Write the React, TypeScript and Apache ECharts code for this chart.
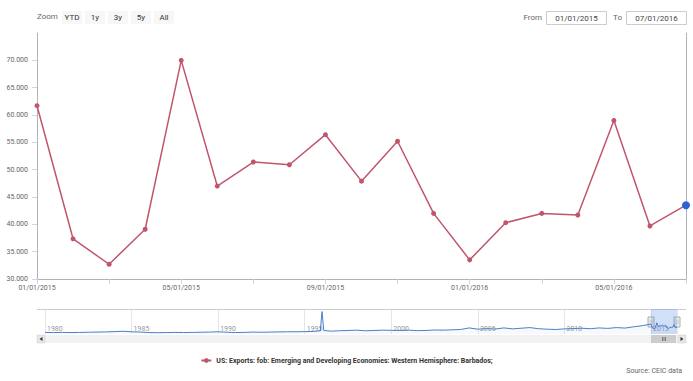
import React, { useEffect, useRef } from "react";
import * as echarts from "echarts";

const categories = [
  "01/01/2015", "02/01/2015", "03/01/2015", "04/01/2015", "05/01/2015", "06/01/2015",
  "07/01/2015", "08/01/2015", "09/01/2015", "10/01/2015", "11/01/2015", "12/01/2015",
  "01/01/2016", "02/01/2016", "03/01/2016", "04/01/2016", "05/01/2016", "06/01/2016",
  "07/01/2016",
];
const exportValues = [
  61.7, 37.35, 32.7, 39.1, 70.0, 47.0, 51.4, 50.9, 56.4, 47.9, 55.2, 42.0,
  33.5, 40.3, 42.0, 41.7, 59.0, 39.7, 43.5,
];
const seriesName = "US: Exports: fob: Emerging and Developing Economies: Western Hemisphere: Barbados;";
const zoomButtons = ["YTD", "1y", "3y", "5y", "All"];
const fromDate = "01/01/2015";
const toDate = "07/01/2016";
const sourceText = "Source: CEIC data";

// navigator history (approximate): [year, value]
const navHistory: [number, number][] = [
  [1980, 10], [1980.5, 9], [1981, 10], [1981.5, 9], [1982, 10], [1982.5, 11],
  [1983, 12], [1983.5, 13], [1984, 15], [1984.5, 17], [1985, 14], [1985.5, 12],
  [1986, 9], [1986.5, 8], [1987, 9], [1987.5, 10], [1988, 9], [1988.5, 10],
  [1989, 11], [1989.5, 12], [1990, 14], [1990.5, 11], [1991, 9], [1991.5, 10],
  [1992, 12], [1992.5, 11], [1993, 12], [1993.5, 13], [1994, 14], [1994.5, 14],
  [1995, 15], [1995.5, 16], [1995.9, 20], [1996, 140], [1996.1, 22], [1996.5, 18],
  [1997, 20], [1997.5, 22], [1998, 24], [1998.5, 20], [1999, 22], [1999.5, 24],
  [2000, 23], [2000.5, 22], [2001, 24], [2001.5, 21], [2002, 22], [2002.5, 25],
  [2003, 24], [2003.5, 26], [2004, 28], [2004.5, 38], [2005, 30], [2005.5, 34],
  [2006, 31], [2006.5, 38], [2007, 32], [2007.5, 36], [2008, 40], [2008.5, 33],
  [2009, 30], [2009.5, 28], [2010, 32], [2010.5, 34], [2011, 36], [2011.5, 33],
  [2012, 38], [2012.5, 35], [2013, 40], [2013.5, 37], [2014, 45], [2014.5, 52],
];
const rangeStart = 2015;
const rangeEnd = 2016.5;

const LINE = "#c0566c";
const FONT = "Roboto";

export default function App() {
  const ref = useRef<HTMLDivElement>(null);
  useEffect(() => {
    if (!ref.current) return;
    const chart = echarts.init(ref.current, null, { renderer: "svg" });
    const navData: [number, number][] = navHistory.concat(
      exportValues.map((v, i) => [rangeStart + i / 12, v] as [number, number])
    );
    const mainData = exportValues.map((v, i) =>
      i === exportValues.length - 1
        ? { value: v, symbolSize: 8, itemStyle: { color: "#2b60d6" } }
        : v
    );
    chart.setOption({
      animation: false,
      textStyle: { fontFamily: FONT },
      grid: [
        { left: 37, right: 7, top: 33, bottom: 102 },
        { left: 45, right: 16, top: 309, height: 25 },
      ],
      legend: {
        left: "center",
        top: 352,
        itemWidth: 10,
        itemHeight: 6,
        textStyle: { fontSize: 7, fontWeight: "bold", color: "#333", fontFamily: FONT },
        data: [seriesName],
      },
      xAxis: [
        {
          type: "category",
          gridIndex: 0,
          data: categories,
          boundaryGap: false,
          axisLine: { lineStyle: { color: "#b3b3b3" } },
          axisTick: { interval: 1, length: 5, lineStyle: { color: "#ccd6eb" } },
          axisLabel: { interval: 3, fontSize: 7, color: "#666", margin: 5, fontFamily: FONT },
          splitLine: { show: false },
        },
        {
          type: "value",
          gridIndex: 1,
          min: 1980,
          max: 2016.5,
          interval: 5,
          axisLine: { show: false },
          axisTick: { show: false },
          splitLine: { show: true, lineStyle: { color: "#e6e6e6" } },
          axisLabel: {
            inside: true,
            margin: 2,
            align: "left",
            fontSize: 7,
            color: "#999",
            padding: [0, 0, 0, 2],
            fontFamily: FONT,
            formatter: (v: number) => (v % 5 === 0 ? String(v) : ""),
          },
        },
      ],
      yAxis: [
        {
          type: "value",
          gridIndex: 0,
          min: 30,
          max: 75,
          interval: 5,
          axisLine: { show: true, lineStyle: { color: "#b3b3b3" } },
          axisTick: { show: true, length: 5, lineStyle: { color: "#ccd6eb" } },
          axisLabel: {
            showMaxLabel: false,
            fontSize: 7,
            color: "#666",
            margin: 9,
            fontFamily: FONT,
            formatter: (v: number) => v.toFixed(3),
          },
          splitLine: { show: false },
        },
        {
          type: "value",
          gridIndex: 0,
          position: "right",
          min: 30,
          max: 75,
          interval: 5,
          axisLine: { show: true, lineStyle: { color: "#b3b3b3" } },
          axisTick: { show: false },
          axisLabel: { show: false },
          splitLine: { show: false },
        },
        {
          type: "value",
          gridIndex: 1,
          min: 0,
          max: 156,
          show: false,
        },
      ],
      series: [
        {
          name: seriesName,
          type: "line",
          xAxisIndex: 0,
          yAxisIndex: 0,
          data: mainData,
          symbol: "circle",
          symbolSize: 5,
          lineStyle: { color: LINE, width: 1.5 },
          itemStyle: { color: LINE },
        },
        {
          name: "nav",
          type: "line",
          xAxisIndex: 1,
          yAxisIndex: 2,
          data: navData,
          showSymbol: false,
          lineStyle: { color: "#4a7fc9", width: 1 },
          areaStyle: { color: "rgba(74,127,201,0.06)" },
          markArea: {
            silent: true,
            itemStyle: { color: "rgba(102,153,230,0.3)" },
            data: [[{ xAxis: rangeStart }, { xAxis: rangeEnd }]],
          },
        },
      ],
    });

    const x0 = chart.convertToPixel({ xAxisIndex: 1 }, rangeStart) as number;
    const x1 = chart.convertToPixel({ xAxisIndex: 1 }, rangeEnd) as number;

    const graphics: any[] = [];
    graphics.push({
      type: "text",
      left: 37,
      top: 12,
      style: { text: "Zoom", fontSize: 8, fill: "#666", fontFamily: FONT },
    });
    const btnX = [62, 85, 108, 131, 154];
    zoomButtons.forEach((b, i) => {
      graphics.push({
        type: "rect",
        shape: { x: btnX[i], y: 11, width: 20, height: 13 },
        style: { fill: "#f7f7f7" },
      });
      graphics.push({
        type: "text",
        x: btnX[i] + 10,
        y: 17.5,
        style: {
          text: b, fontSize: 8, fill: "#333", fontFamily: FONT,
          align: "center", verticalAlign: "middle",
        },
      });
    });
    graphics.push({
      type: "text", x: 542, y: 17.5,
      style: { text: "From", fontSize: 8, fill: "#666", fontFamily: FONT, align: "right", verticalAlign: "middle" },
    });
    graphics.push({
      type: "rect", shape: { x: 546.5, y: 11.5, width: 60, height: 13 },
      style: { fill: "#fff", stroke: "#ccc", lineWidth: 1 },
    });
    graphics.push({
      type: "text", x: 576.5, y: 18,
      style: { text: fromDate, fontSize: 8, fill: "#444", fontFamily: FONT, align: "center", verticalAlign: "middle" },
    });
    graphics.push({
      type: "text", x: 622, y: 17.5,
      style: { text: "To", fontSize: 8, fill: "#666", fontFamily: FONT, align: "right", verticalAlign: "middle" },
    });
    graphics.push({
      type: "rect", shape: { x: 626.5, y: 11.5, width: 60, height: 13 },
      style: { fill: "#fff", stroke: "#ccc", lineWidth: 1 },
    });
    graphics.push({
      type: "text", x: 656.5, y: 18,
      style: { text: toDate, fontSize: 8, fill: "#444", fontFamily: FONT, align: "center", verticalAlign: "middle" },
    });
    // navigator outline top
    graphics.push({
      type: "line", shape: { x1: 37, y1: 309.5, x2: 686, y2: 309.5 },
      style: { stroke: "#ccc", lineWidth: 1 },
    });
    // scrollbar
    graphics.push({
      type: "rect", shape: { x: 37, y: 335, width: 649, height: 8 },
      style: { fill: "#f2f2f2" },
    });
    graphics.push({
      type: "rect", shape: { x: 37, y: 335, width: 8, height: 8 },
      style: { fill: "#e6e6e6", stroke: "#ccc", lineWidth: 0.5 },
    });
    graphics.push({
      type: "polygon", shape: { points: [[42.5, 337], [42.5, 341], [39.5, 339]] },
      style: { fill: "#333" },
    });
    graphics.push({
      type: "rect", shape: { x: 678, y: 335, width: 8, height: 8 },
      style: { fill: "#e6e6e6", stroke: "#ccc", lineWidth: 0.5 },
    });
    graphics.push({
      type: "polygon", shape: { points: [[680.5, 337], [680.5, 341], [683.5, 339]] },
      style: { fill: "#333" },
    });
    graphics.push({
      type: "rect", shape: { x: x0, y: 335, width: x1 - x0 - 1, height: 8 },
      style: { fill: "#cccccc" },
    });
    const mid = (x0 + x1) / 2;
    [-1.5, 0, 1.5].forEach((d) => {
      graphics.push({
        type: "line", shape: { x1: mid + d, y1: 337, x2: mid + d, y2: 341 },
        style: { stroke: "#333", lineWidth: 0.5 },
      });
    });
    // handles
    [x0, x1].forEach((hx) => {
      graphics.push({
        type: "rect", shape: { x: hx - 3, y: 317, width: 6, height: 10 },
        style: { fill: "#f2f2f2", stroke: "#999", lineWidth: 0.8 },
      });
      [-1, 1].forEach((d) => {
        graphics.push({
          type: "line", shape: { x1: hx + d, y1: 319.5, x2: hx + d, y2: 324.5 },
          style: { stroke: "#999", lineWidth: 0.5 },
        });
      });
    });
    graphics.push({
      type: "text", x: 682, y: 371,
      style: { text: sourceText, fontSize: 7, fill: "#666", fontFamily: FONT, align: "right", verticalAlign: "middle" },
    });
    chart.setOption({ graphic: graphics });

    return () => chart.dispose();
  }, []);
  return (
    <div
      ref={ref}
      style={{ position: "fixed", left: 0, top: 0, width: 693, height: 381, background: "#fff" }}
    />
  );
}
